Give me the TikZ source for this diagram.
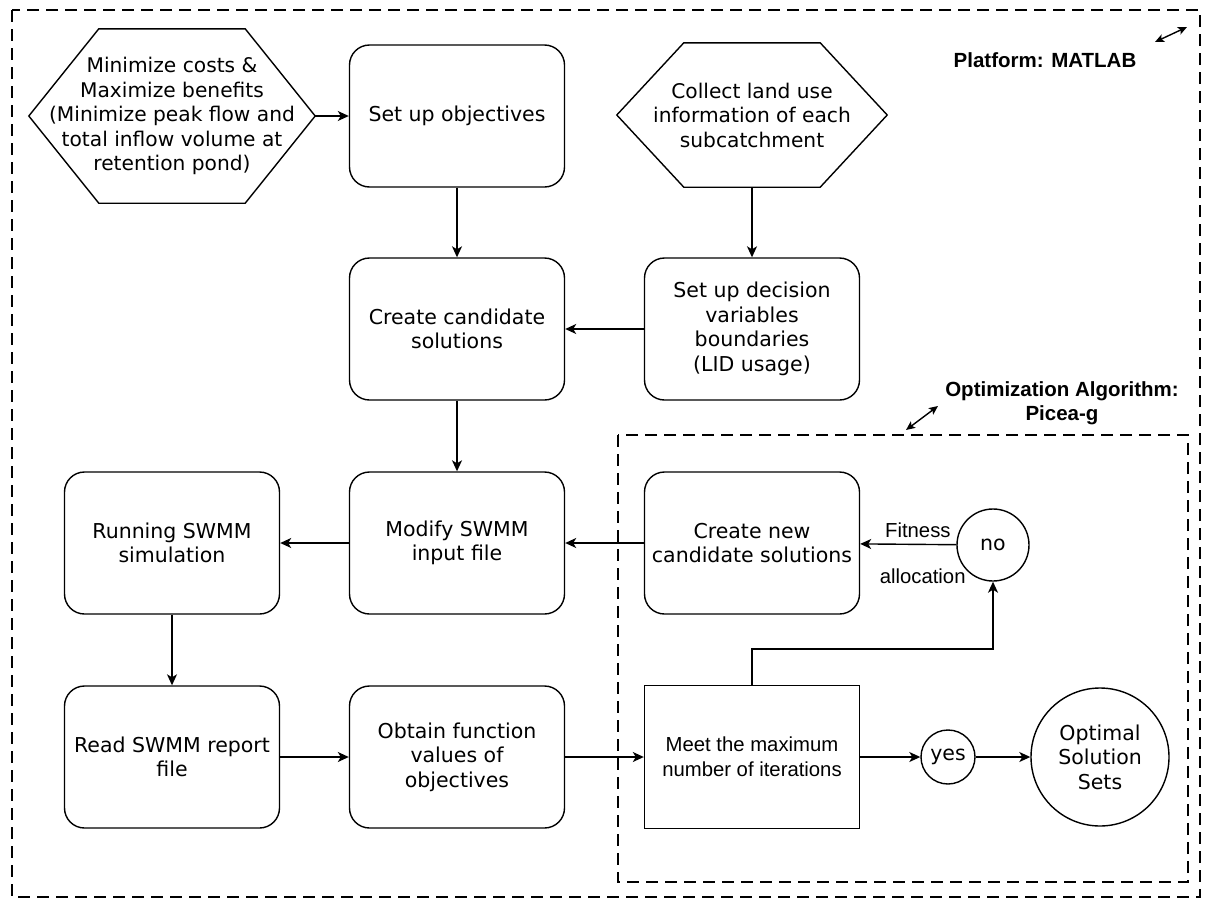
\documentclass[tikz,border=0pt]{standalone}
\usepackage{fontspec}
\setmainfont{DejaVu Sans}
\newfontfamily\arialfont{Liberation Sans}
\usetikzlibrary{positioning, calc, shapes, arrows.meta}

\begin{document}
\begin{tikzpicture}[x=1pt,y=-1pt]
		\tikzstyle{every path}=[line width=1.4pt]
		
		\tikzstyle{procbox}=[draw,rounded corners=20pt,minimum width=215pt,minimum height=142pt,
		align=center,font=\fontsize{20.5}{24.5}\selectfont]
		\tikzstyle{hexbox}=[inner sep=0pt,align=center,font=\fontsize{20.2}{24.5}\selectfont]
		\tikzstyle{choice}=[draw,circle,align=center,inner sep=0pt,font=\fontsize{20.5}{24.5}\selectfont]
		\tikzstyle{flow}=[-{Stealth[length=11pt,width=10pt,inset=3pt]}]
		\tikzstyle{twoway}=[{Stealth[length=9pt,width=8pt,inset=2pt]}-{Stealth[length=9pt,width=8pt,inset=2pt]}]
		\tikzstyle{region}=[line width=2.8pt,dash pattern=on 12pt off 7pt]
		\tikzstyle{tag}=[font=\arialfont\bfseries\fontsize{20.5}{24.5}\selectfont,align=center]
		\tikzstyle{note}=[font=\arialfont\fontsize{20.3}{25}\selectfont,align=center]
		
		\useasboundingbox (0,0) rectangle (1205,900);
		
		%% Areas
		\draw[region] (12,10) rectangle (1200,897);
		\draw[region] (618,435) rectangle (1188,882);
		
		%% Top row
		\node[hexbox,minimum width=285pt,minimum height=173pt] (goals) at (172,116) {Minimize costs \&\\Maximize benefits\\(Minimize peak flow and\\total inflow volume at\\retention pond)};
		\draw (goals.west) -- ($(goals.north west)+(70,0)$) -- ($(goals.north east)+(-70,0)$) -- (goals.east)
		-- ($(goals.south east)+(-70,0)$) -- ($(goals.south west)+(70,0)$) -- cycle;
		\node[procbox] (objs) at (457,116) {Set up objectives};
		\node[hexbox,minimum width=269pt,minimum height=143pt] (landuse) at (752,115) {Collect land use\\information of each\\subcatchment};
		\draw (landuse.west) -- ($(landuse.north west)+(67,0)$) -- ($(landuse.north east)+(-67,0)$) -- (landuse.east)
		-- ($(landuse.south east)+(-67,0)$) -- ($(landuse.south west)+(67,0)$) -- cycle;
		
		%% Second row
		\node[procbox] (cands) at (457,329) {Create candidate\\solutions};
		\node[procbox] (decvars) at (752,329) {Set up decision\\variables\\boundaries\\(LID usage)};
		
		%% Third row
		\node[procbox] (runswmm) at (172,543) {Running SWMM\\simulation};
		\node[procbox] (modify) at (457,543) {Modify SWMM\\input file};
		\node[procbox] (newcands) at (752,543) {Create new\\candidate solutions};
		\node[choice,minimum size=72pt] (no) at (993,545) {no};
		
		%% Bottom row
		\node[procbox] (report) at (172,757) {Read SWMM report\\file};
		\node[procbox] (funcvals) at (457,757) {Obtain function\\values of\\objectives};
		\node[draw,note,minimum width=215pt,minimum height=143pt] (maxiter) at (752,757) {Meet the maximum\\number of iterations};
		\node[choice,minimum size=54pt] (yes) at (948,757) {yes};
		\node[choice,minimum size=138pt] (optimal) at (1100,757) {Optimal\\Solution\\Sets};
		
		%% Labels of the areas
		\node[tag] (platform) at (1045,60) {Platform: MATLAB};
		\node[tag] (algo) at (1062,403) {Optimization Algorithm:\\Picea-g};
		\coordinate (pa1) at (1155,42);
		\coordinate (pa2) at (1187,27);
		\coordinate (pb1) at (906,430);
		\coordinate (pb2) at (938,406);
		\draw[twoway] (pa1) -- (pa2);
		\draw[twoway] (pb1) -- (pb2);
		
		%% Connections
		\draw[flow] (goals.east) -- (objs.west);
		\draw[flow] (objs) -- (cands);
		\draw[flow] (landuse.south) -- (decvars.north);
		\draw[flow] (decvars) -- (cands);
		\draw[flow] (cands) -- (modify);
		\draw[flow] (newcands) -- (modify);
		\draw[flow] (modify) -- (runswmm);
		\draw[flow] (runswmm) -- (report);
		\draw[flow] (report) -- (funcvals);
		\draw[flow] (funcvals) -- (maxiter);
		\draw[flow] (maxiter.north) -- ++(0,-36) -| (no.south);
		\draw[flow] (no) -- node[note,above=3pt,pos=0.4] {Fitness}
		node[note,below=20pt,pos=0.35] {allocation} (newcands);
		\draw[flow] (maxiter) -- (yes);
		\draw[flow] (yes) -- (optimal);
		
	\end{tikzpicture}
\end{document}
